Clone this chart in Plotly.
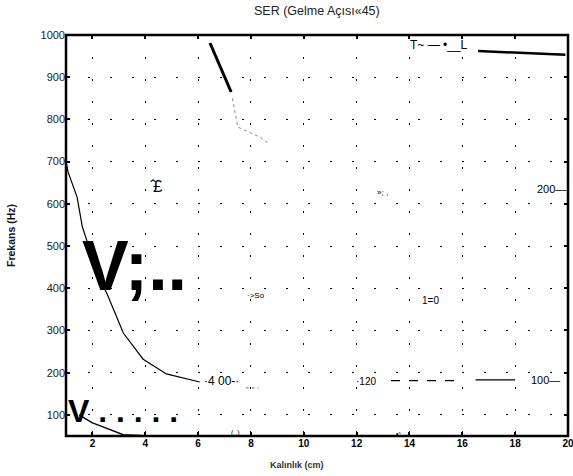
import plotly.graph_objects as go

# Axis ticks
x_ticks = [2, 4, 6, 8, 10, 12, 14, 16, 18, 20]
y_ticks = [100, 200, 300, 400, 500, 600, 700, 800, 900, 1000]

# Contour curves (Kalınlık vs Frekans)
x_c400 = [1.0, 1.08, 1.42, 1.62, 1.86, 2.1, 2.56, 3.17, 3.92, 4.8, 6.06]
y_c400 = [700, 675, 616, 545, 500, 445, 386, 294, 232, 197, 178]

x_c400_tail = [7.8, 8.3]
y_c400_tail = [164, 164]

x_c120 = [13.3, 16.0]
y_c120 = [181, 181]
x_c100 = [16.5, 18.0]
y_c100 = [183, 183]

x_low = [1.5, 1.67, 2.0, 2.3, 2.8, 3.17, 4.0, 6.0, 10.0, 20.0]
y_low = [100, 93, 81, 74, 62, 53, 51, 50, 50, 50]

x_steep = [6.45, 7.25]
y_steep = [981, 865]
x_steep_tail = [7.3, 7.5, 8.34, 8.65]
y_steep_tail = [850, 782, 758, 744]

x_top = [16.6, 19.9]
y_top = [962, 953]

fig = go.Figure()

def add_line(xs, ys, width=1.2, dash="solid", color="black"):
    fig.add_trace(go.Scatter(x=xs, y=ys, mode="lines",
                             line=dict(color=color, width=width, dash=dash),
                             hoverinfo="skip", showlegend=False))

add_line(x_c400, y_c400, 1.2)
add_line(x_c400_tail, y_c400_tail, 1, "dot", "#777")
add_line(x_c120, y_c120, 1.2, "dash")
add_line(x_c100, y_c100, 1.4)
add_line(x_low, y_low, 1.3)
add_line(x_steep, y_steep, 3)
add_line(x_steep_tail, y_steep_tail, 1, "dot", "#888")
add_line(x_top, y_top, 2.5)

font_main = "Liberation Sans, Arial, sans-serif"

labels = [
    # text, x, y, size, bold, anchor
    ("V;..", 1.52, 452, 70, True, "left"),
    ("V . . . . .", 1.0, 110, 32, True, "left"),
    ("\u0302\u00a3", 4.44, 642, 17, False, "center"),
    ("\u00b7>So", 8.2, 382, 8, False, "center"),
    ("\u00bb; ,", 12.96, 628, 8, False, "center"),
    ("200\u2014", 19.36, 634, 11, False, "center"),
    ("1=0", 14.78, 370, 10, False, "center"),
    ("\u00b74 00-\u00b7", 6.9, 180, 12, False, "center"),
    ("\u00b7120", 12.36, 180, 10, False, "center"),
    ("100\u2014", 19.13, 182, 11, False, "center"),
    ("( .)", 7.4, 57, 7, False, "center"),
    ("\u2022\u02e2", 13.6, 57, 7, False, "center"),
    ("T~ \u2014 \u2022__L", 13.94, 976, 12, False, "left"),
]
for text, x, y, size, bold, anchor in labels:
    fig.add_annotation(
        x=x, y=y, xref="x", yref="y", text=f"<b>{text}</b>" if bold else text,
        showarrow=False, xanchor=anchor, yanchor="middle",
        font=dict(family=font_main, size=size, color="black"),
    )

fig.add_annotation(
    x=0.46, y=-0.073, xref="paper", yref="paper", text="<b>Kalınlık (cm)</b>",
    showarrow=False, yanchor="middle",
    font=dict(family=font_main, size=9, color="#333"),
)

# Plot frame
fig.add_shape(type="rect", xref="paper", yref="paper", x0=0, y0=0, x1=1, y1=1,
              line=dict(color="black", width=2.5), layer="above")

axis_common = dict(
    showline=False, mirror="ticks",
    ticks="inside", ticklen=4, tickwidth=1.5, tickcolor="black",
    showgrid=True, gridcolor="black", gridwidth=1.3, griddash="2px,20px",
    zeroline=False, ticklabeloverflow="allow",
)

fig.update_layout(
    template="none",
    width=573, height=476,
    margin=dict(l=66, r=5, t=35, b=40),
    paper_bgcolor="white", plot_bgcolor="white",
    title=dict(text="SER (Gelme Açısı«45)", x=0.553, xanchor="center", y=0.978,
               yanchor="middle", font=dict(family=font_main, size=12.5, color="#222")),
    xaxis=dict(range=[1, 20], tickvals=x_ticks, ticktext=[str(v) for v in x_ticks],
               tickfont=dict(family=font_main, size=10, color="black", weight="bold"),
               **axis_common),
    yaxis=dict(range=[50, 1000], tickvals=y_ticks, ticktext=[str(v) for v in y_ticks],
               tickfont=dict(family=font_main, size=11, color="#222"),
               title=dict(text="<b>Frekans (Hz)</b>", standoff=22,
                          font=dict(family=font_main, size=10.5, color="#111")),
               **axis_common),
)

fig.write_html("out.html")
